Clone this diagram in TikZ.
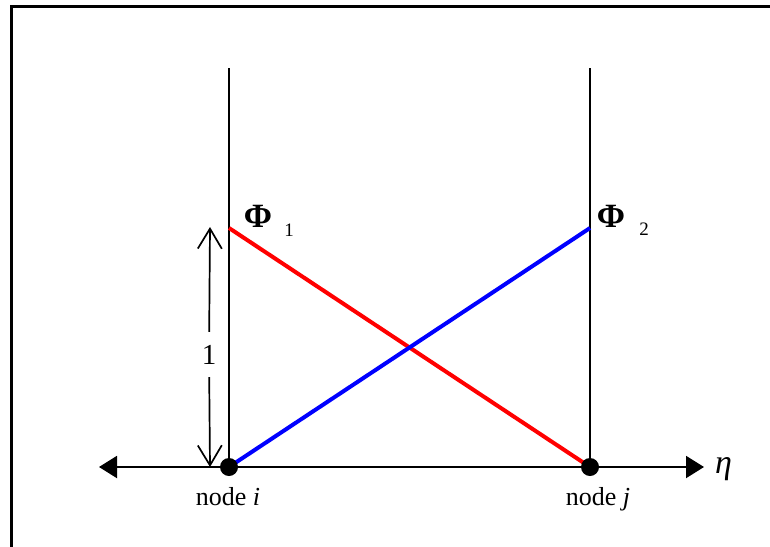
\documentclass[tikz,border=0pt]{standalone}
\usepackage{fontspec}
\setmainfont{Liberation Serif}
\usetikzlibrary{arrows.meta}
\begin{document}
\begin{tikzpicture}[x=1pt,y=-1pt,
  frameline/.style={line width=3pt},
  vline/.style={line width=2pt},
  axisline/.style={line width=2pt},
  axishead/.style={-{Triangle[length=18pt,width=22pt]}},
  shapefn/.style={line width=4pt},
  dim/.style={line width=1.7pt,-{Straight Barb[length=20pt,width=24pt,line width=1.7pt]}},
  dot/.style={circle,fill=black,inner sep=0pt,minimum size=18pt},
  lbl/.style={inner sep=0pt,font=\fontsize{26}{26}\selectfont},
  philbl/.style={inner sep=0pt,font=\fontsize{34}{34}\selectfont\bfseries},
  sublbl/.style={inner sep=0pt,font=\fontsize{19}{19}\selectfont},
]
\useasboundingbox (0,0) rectangle (770,546);
% frame (only left and top edges visible)
\coordinate (fA) at (11,560);
\coordinate (fB) at (11,6);
\coordinate (fC) at (790,6);
\draw[frameline] (fA) -- (fB) -- (fC);

% coordinates
\coordinate (iT) at (229,68);
\coordinate (jT) at (590,68);
\coordinate (iB) at (229,467);
\coordinate (jB) at (590,467);
\coordinate (p1) at (229,228);
\coordinate (p2) at (590,228);
\coordinate (axL) at (99,467);
\coordinate (axR) at (704,467);
\coordinate (d1) at (210,227);
\coordinate (d0) at (210,467);

% vertical lines
\draw[vline] (iB) -- (iT);
\draw[vline] (jB) -- (jT);

% axis
\draw[axisline,axishead] (iB) -- (axL);
\draw[axisline] (iB) -- (jB);
\draw[axisline,axishead] (jB) -- (axR);

% shape functions
\draw[shapefn,red] (p1) -- (jB);
\draw[shapefn,blue] (iB) -- (p2);

% dots
\node[dot] (ni) at (iB) {};
\node[dot] (nj) at (jB) {};

% dimension
\node[inner sep=0pt,minimum height=45pt,font=\fontsize{29}{29}\selectfont] (one) at (209,354.5) {1};
\draw[dim] (one) -- (d1);
\draw[dim] (one) -- (d0);

% labels
\node[philbl] (phi1) at (258,216) {Φ};
\node[sublbl] (s1) at (289,230) {1};
\node[philbl] (phi2) at (611,216) {Φ};
\node[sublbl] (s2) at (644,229) {2};
\node[lbl,anchor=base] (li) at (228,505) {node \textit{i}};
\node[lbl,anchor=base] (lj) at (598,505) {node \textit{j}};
\node[inner sep=0pt,anchor=base west,font=\fontsize{34}{34}\selectfont\itshape] (eta) at (715,473) {η};
\end{tikzpicture}
\end{document}
